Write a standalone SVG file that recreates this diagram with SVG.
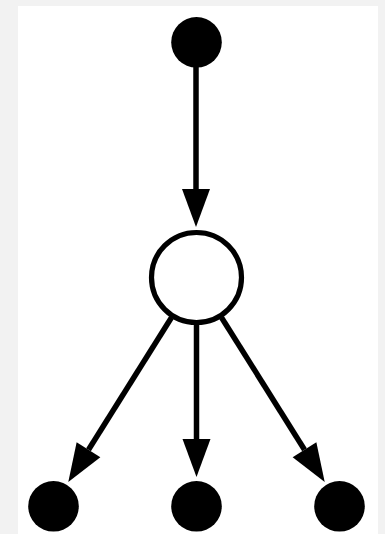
<svg xmlns="http://www.w3.org/2000/svg" width="385" height="534" viewBox="0 0 385 534">
  <style>
    .edge { stroke: #000; stroke-width: 5.5; fill: none; }
    .solid { fill: #000; }
    .hollow { fill: #fff; stroke: #000; stroke-width: 5.2; }
  </style>
  <defs>
    <!-- arrowhead begins where the line ends: 38 long, 28 wide -->
    <marker id="head" markerUnits="userSpaceOnUse" markerWidth="38" markerHeight="28" refX="0" refY="14" orient="auto" overflow="visible">
      <path d="M0,0 L38,14 L0,28 Z" fill="#000"/>
    </marker>
  </defs>

  <!-- page -->
  <rect x="0" y="0" width="385" height="534" fill="#f2f2f2"/>
  <rect x="18" y="6" width="360" height="528" fill="#fff"/>

  <g id="edges">
    <line class="edge" x1="196" y1="67" x2="196" y2="189" marker-end="url(#head)"/>
    <line class="edge" x1="171.5" y1="317.5" x2="88.5" y2="449.7" marker-end="url(#head)"/>
    <line class="edge" x1="196.5" y1="325" x2="196.5" y2="439" marker-end="url(#head)"/>
    <line class="edge" x1="221.5" y1="317.5" x2="304.5" y2="449.7" marker-end="url(#head)"/>
  </g>

  <g id="top">
    <circle class="solid" cx="196.5" cy="42.3" r="25.3"/>
  </g>
  <g id="middle">
    <circle class="hollow" cx="196.5" cy="277.5" r="45"/>
  </g>
  <g id="left">
    <circle class="solid" cx="53.5" cy="506.3" r="25.3"/>
  </g>
  <g id="center">
    <circle class="solid" cx="196.5" cy="506.3" r="25.3"/>
  </g>
  <g id="right">
    <circle class="solid" cx="339.5" cy="506.3" r="25.3"/>
  </g>
</svg>
